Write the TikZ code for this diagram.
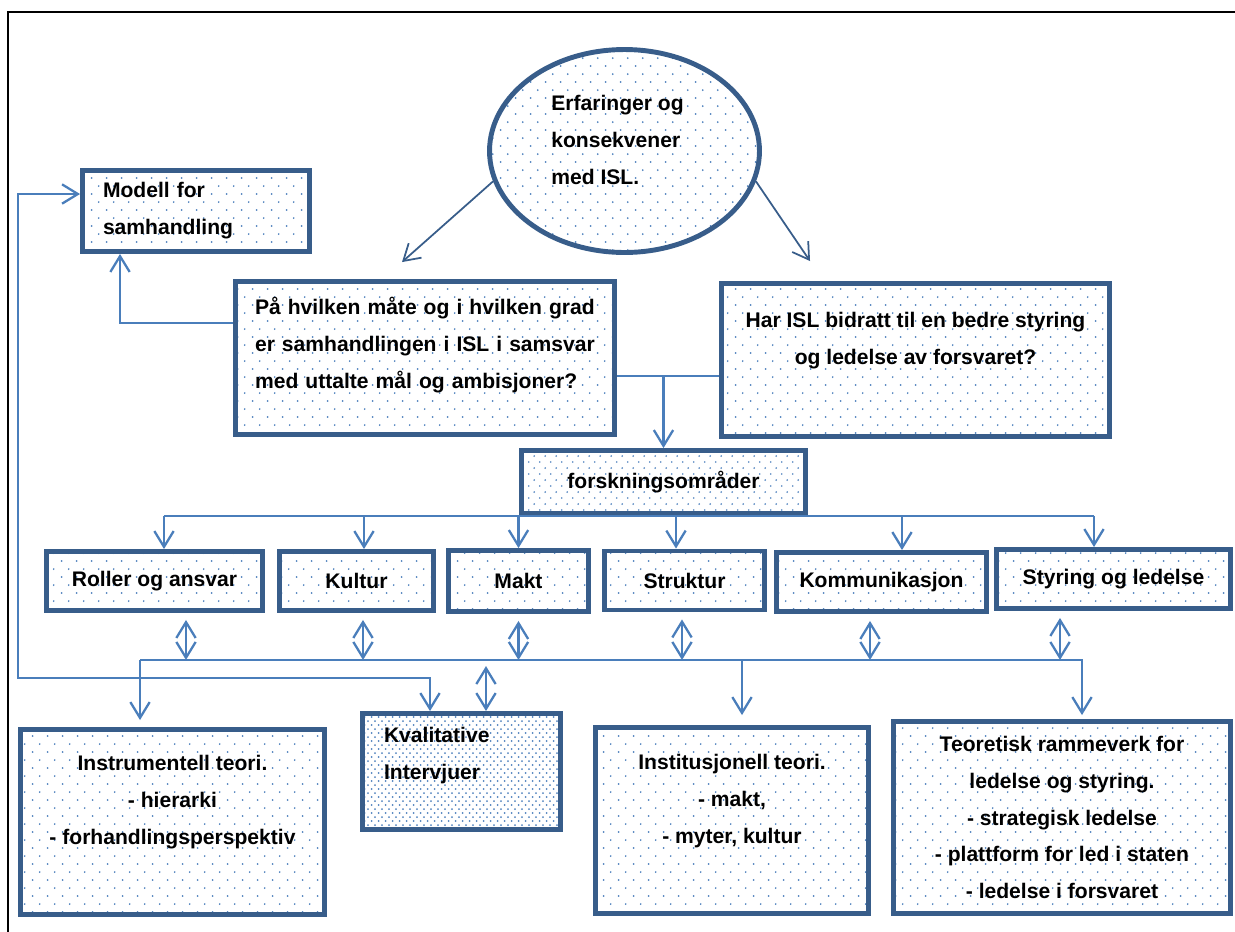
\documentclass[tikz,border=0pt]{standalone}
\usepackage{fontspec}
\setmainfont{Liberation Sans}
\usetikzlibrary{arrows.meta,shapes.geometric,patterns.meta}

\definecolor{boxblue}{RGB}{56,93,138}
\definecolor{linkblue}{RGB}{74,126,187}
\definecolor{dotblue}{RGB}{79,129,189}

\tikzdeclarepattern{
  name=sparsedots,
  type=uncolored,
  bottom left={(0pt,0pt)},
  top right={(8.33pt,9.07pt)},
  tile size={(8.33pt,9.07pt)},
  code={
    \pgfpathcircle{\pgfpoint{2.08pt}{2.27pt}}{0.55pt}
    \pgfpathcircle{\pgfpoint{6.25pt}{6.8pt}}{0.55pt}
    \pgfusepath{fill}
  }
}
\tikzdeclarepattern{
  name=middots,
  type=uncolored,
  bottom left={(0pt,0pt)},
  top right={(6.24pt,6.8pt)},
  tile size={(6.24pt,6.8pt)},
  code={
    \pgfpathcircle{\pgfpoint{1.56pt}{1.7pt}}{0.55pt}
    \pgfpathcircle{\pgfpoint{4.68pt}{5.1pt}}{0.55pt}
    \pgfusepath{fill}
  }
}
\tikzdeclarepattern{
  name=densedots,
  type=uncolored,
  bottom left={(0pt,0pt)},
  top right={(4.14pt,4.76pt)},
  tile size={(4.14pt,4.76pt)},
  code={
    \pgfpathcircle{\pgfpoint{1.03pt}{1.19pt}}{0.6pt}
    \pgfpathcircle{\pgfpoint{3.1pt}{3.57pt}}{0.6pt}
    \pgfusepath{fill}
  }
}

\begin{document}
\begin{tikzpicture}[
      x=0.02cm, y=-0.02cm,
      >={Straight Barb[length=9pt,width=11pt]},
      every node/.style={font=\fontsize{12}{21}\selectfont\bfseries, inner sep=0pt},
      box/.style={draw=boxblue, line width=2.8pt, pattern=sparsedots, pattern color=dotblue},
      cat/.style={box, minimum height=1.18cm},
      link/.style={draw=linkblue, line width=1.3pt},
      thinarr/.style={draw=boxblue, line width=1pt, ->}
      ]
      \useasboundingbox (0,0) rectangle (1235,931);
      \clip (0,0) rectangle (1235,931);
      \draw[line width=1pt] (8,12) rectangle (1260,960);

      % top
      \node[box, ellipse, minimum width=5.4cm, minimum height=4.06cm] (erf) at (624.5,151) {};
      \node[align=left] (erftext) at (617.5,140) {Erfaringer og\\konsekvener\\med ISL.};
      \node[box, minimum width=4.54cm, minimum height=1.62cm, text width=3.72cm, align=left] (modell) at (196,211) {Modell for\\samhandling};
      \node[box, minimum width=7.58cm, minimum height=3.06cm, text width=6.8cm, align=left] (hvilken) at (425,358)
        {På hvilken måte og i hvilken grad\\er samhandlingen i ISL i samsvar\\med uttalte mål og ambisjoner?\rule[-0.6cm]{0pt}{0pt}};
      \node[box, minimum width=7.76cm, minimum height=3.06cm, align=center] (bidratt) at (915.5,360)
        {Har ISL bidratt til en bedre styring\\og ledelse av forsvaret?\rule[-0.85cm]{0pt}{0pt}};
      \node[box, pattern=middots, minimum width=5.68cm, minimum height=1.26cm] (omr) at (663.5,482) {forskningsområder};

      % research areas
      \node[cat, minimum width=4.32cm] (roller) at (154.5,581) {Roller og ansvar};
      \node[cat, minimum width=3.08cm] (kultur) at (356.5,581) {Kultur};
      \node[cat, minimum width=2.8cm, minimum height=1.22cm] (makt) at (518.5,581) {Makt};
      \node[cat, minimum width=3.2cm] (struktur) at (684.5,580.5) {Struktur};
      \node[cat, minimum width=4.2cm] (komm) at (881.5,582) {Kommunikasjon};
      \node[cat, minimum width=4.68cm] (styring) at (1113.5,579) {Styring og ledelse};

      % theory and method
      \node[box, minimum width=6.08cm, minimum height=3.7cm, align=center] (instr) at (172.5,822)
        {Instrumentell teori.\\- hierarki\\- forhandlingsperspektiv\rule[-0.89cm]{0pt}{0pt}};
      \node[box, pattern=densedots, minimum width=3.96cm, minimum height=2.32cm, text width=3.1cm, align=left] (kval) at (461.5,771.5)
        {Kvalitative\\Intervjuer\rule[-0.73cm]{0pt}{0pt}};
      \node[box, minimum width=5.46cm, minimum height=3.72cm, align=center] (inst) at (732,820.5)
        {Institusjonell teori.\\- makt,\\- myter, kultur\rule[-0.87cm]{0pt}{0pt}};
      \node[box, minimum width=6.74cm, minimum height=3.84cm, align=center] (teor) at (1062,817.5)
        {Teoretisk rammeverk for\\ledelse og styring.\\- strategisk ledelse\\- plattform for led i staten\\- ledelse i forsvaret};

      % connectors
      \coordinate (hvin) at ([xshift=-0.46cm,yshift=0.34cm]hvilken.north);
      \coordinate (bin) at ([xshift=-2.11cm,yshift=0.4cm]bidratt.north);
      \draw[thinarr] (erf.193) -- (hvin);
      \draw[thinarr] (erf.-13) -- (bin);
      \draw[link, ->] ([yshift=0.7cm]hvilken.west) -| ([xshift=-1.52cm]modell.south);

      \coordinate (loop) at (18,678);
      \draw[link, <->] ([yshift=0.34cm]modell.west) -| (loop) -| ([xshift=-0.63cm]kval.north);

      \coordinate (qbar) at ([yshift=-0.36cm]hvilken.east);
      \draw[link] (qbar) -- (qbar -| bidratt.west);
      \draw[link, ->] (qbar -| omr.north) -- (omr.north);

      \coordinate (fbus) at (omr.south);
      \foreach \n/\dx in {roller/0.19, kultur/0.15, makt/0, struktur/-0.17, komm/0.41, styring/-0.39} {
        \coordinate (\n-in) at ([xshift=\dx cm]\n.north);
        \draw[link, ->] (\n-in |- fbus) -- (\n-in);
      }
      \draw[link] (roller-in |- fbus) -- (styring-in |- fbus);

      \coordinate (lbus) at ([yshift=-0.94cm]roller.south);
      \foreach \n/\dx in {roller/0.63, kultur/0.13, makt/0, struktur/-0.05, komm/-0.23, styring/-1.07} {
        \coordinate (\n-out) at ([xshift=\dx cm,yshift=-0.14cm]\n.south);
        \draw[link, <->] (\n-out) -- (\n-out |- lbus);
      }

      \coordinate (instr-in) at ([xshift=-0.65cm,yshift=0.14cm]instr.north);
      \coordinate (inst-in) at ([xshift=0.2cm,yshift=0.2cm]inst.north);
      \coordinate (teor-in) at ([xshift=0.4cm,yshift=0.08cm]teor.north);
      \draw[link, ->] (instr-in |- lbus) -- (instr-in);
      \draw[link, ->] (instr-in |- lbus) -- (teor-in |- lbus) -- (teor-in);
      \draw[link, ->] (inst-in |- lbus) -- (inst-in);

      \coordinate (kval-in) at ([xshift=0.49cm,yshift=0.9cm]kval.north);
      \draw[link, <->] (kval-in) -- (kval-in |- kval.north);
    \end{tikzpicture}
\end{document}
